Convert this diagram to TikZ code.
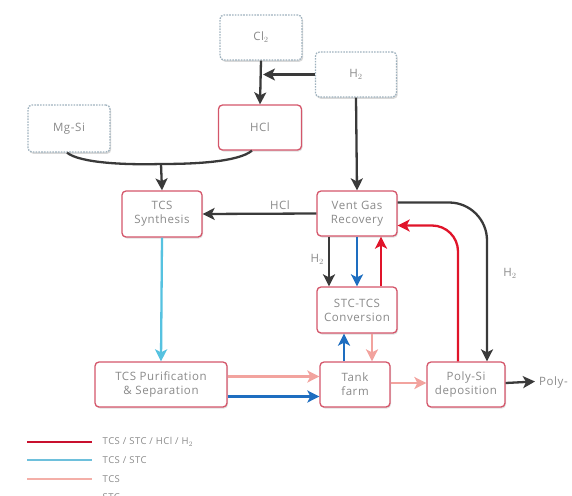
\documentclass[tikz,border=0pt]{standalone}
\usepackage{fontspec}
\setmainfont[LetterSpace=5]{Open Sans}
\usetikzlibrary{arrows.meta,shadows,calc}
\definecolor{boxred}{HTML}{D4566A}
\definecolor{txtgray}{HTML}{8A8A8A}
\definecolor{dashgray}{HTML}{9FB2BE}
\definecolor{arrdark}{HTML}{3A3A3A}
\definecolor{flowred}{HTML}{E0142A}
\definecolor{flowblue}{HTML}{1E6EC0}
\definecolor{flowcyan}{HTML}{56C2E0}
\definecolor{flowpink}{HTML}{F2A39E}
\definecolor{legred}{HTML}{C8102E}
\definecolor{legcyan}{HTML}{6EC0DC}
\definecolor{legpink}{HTML}{F4AFA8}
\definecolor{legblue}{HTML}{48A8E0}
\begin{document}
\begin{tikzpicture}[x=1pt,y=-1pt,
  every node/.style={font=\fontsize{11.5}{14}\selectfont, text=txtgray, align=center},
  procbox/.style={draw=boxred, line width=1.3pt, rounded corners=4pt, fill=white,
     inner sep=0pt, drop shadow={opacity=0.25, shadow xshift=1pt, shadow yshift=-1.5pt}},
  feedbox/.style={draw=dashgray, line width=1.3pt, dash pattern=on 1.6pt off 1.2pt, rounded corners=4pt, fill=white,
     inner sep=0pt, drop shadow={opacity=0.3, shadow xshift=1.2pt, shadow yshift=-1.8pt}},
  tip/.style={-{Stealth[length=12pt,width=12pt,inset=3pt]}},
  darkflow/.style={tip, draw=arrdark, line width=2.3pt},
  redflow/.style={tip, draw=flowred, line width=2.3pt},
  blueflow/.style={tip, draw=flowblue, line width=2.3pt},
  cyanflow/.style={tip, draw=flowcyan, line width=2.3pt},
  pinkflow/.style={tip, draw=flowpink, line width=2.3pt},
  legline/.style={line width=2.8pt},
  legtext/.style={font=\fontsize{9.5}{11}\selectfont, anchor=west},
  flowlabel/.style={font=\fontsize{11.5}{14}\selectfont}
]
\useasboundingbox (0,0) rectangle (572,495);
% nodes
\node[feedbox, minimum width=82pt, minimum height=45pt] (cl) at (261,37.5) {Cl$_2$};
\node[feedbox, minimum width=81pt, minimum height=45pt] (h2) at (356,74.5) {H$_2$};
\node[procbox, minimum width=83pt, minimum height=45pt] (hcl) at (260,127.5) {HCl};
\node[feedbox, minimum width=82pt, minimum height=47pt] (mg) at (69,128.5) {Mg-Si};
\node[procbox, minimum width=80pt, minimum height=46pt] (syn) at (162,214) {TCS\\Synthesis};
\node[procbox, minimum width=80pt, minimum height=45pt] (vgr) at (357,213.5) {Vent Gas\\Recovery};
\node[procbox, minimum width=80pt, minimum height=46pt] (stc) at (357,310) {STC-TCS\\Conversion};
\node[procbox, minimum width=132pt, minimum height=45pt] (pur) at (161,384.5) {TCS Purification\\\& Separation};
\node[procbox, minimum width=70pt, minimum height=45pt] (tank) at (355,384.5) {Tank\\farm};
\node[procbox, minimum width=78pt, minimum height=45pt] (poly) at (466,384.5) {Poly-Si\\deposition};
\node[anchor=west, inner sep=0pt] (polyout) at (539,383) {Poly-};
% feed connectors
\coordinate (join) at ([xshift=2pt]cl.south |- h2.west);
\draw[darkflow] (cl.south) -- (hcl.north);
\draw[darkflow] (h2.west) -- (join);
\draw[darkflow] (h2.south) -- (vgr.north);
\coordinate (merge) at (161,164);
\draw[arrdark, line width=2.3pt] ([xshift=-2pt]mg.south) .. controls (80,163) and (125,165) .. (merge);
\draw[arrdark, line width=2.3pt] ([xshift=-8pt]hcl.south) .. controls (238,162) and (195,164) .. (merge);
\draw[darkflow] (merge) -- (syn.north);
\draw[darkflow] (vgr.west) -- node[flowlabel, above, pos=0.32, inner sep=3pt] (lhcl) {HCl} (syn.east);
% vent gas / conversion
\draw[darkflow] ([xshift=-28pt]vgr.south) -- node[flowlabel, left, pos=0.45, inner sep=4pt] (lh2a) {H$_2$} ([xshift=-28pt]stc.north);
\draw[blueflow] (vgr.south) -- (stc.north);
\draw[redflow] ([xshift=24pt]stc.north) -- ([xshift=24pt]vgr.south);
\draw[darkflow, rounded corners=38pt] ([yshift=11pt]vgr.east) -| ([xshift=21pt]poly.north);
\node[flowlabel] (lh2b) at (510,273) {H$_2$};
\draw[redflow, rounded corners=26pt] ([xshift=-8pt]poly.north) |- ([yshift=-12pt]vgr.east);
% process line
\draw[cyanflow] (syn.south) -- (pur.north);
\draw[pinkflow] ([yshift=8pt]pur.east) -- ([yshift=8pt]pur.east -| tank.west);
\draw[blueflow] ([yshift=-12pt]pur.east) -- ([yshift=-12pt]pur.east -| tank.west);
\draw[blueflow] ([xshift=-11pt]tank.north) -- ([xshift=-11pt]tank.north |- stc.south);
\draw[pinkflow] ([xshift=17pt]tank.north |- stc.south) -- ([xshift=17pt]tank.north);
\draw[pinkflow] ([yshift=1.5pt]tank.east) -- ([yshift=1.5pt]tank.east -| poly.west);
\coordinate (outend) at ([xshift=-4pt,yshift=1.5pt]polyout.west);
\draw[darkflow] ([yshift=1.5pt]poly.east) -- (outend);
% legend
\draw[legline, legred] (27,442) -- (92,442) node[legtext, text=txtgray, xshift=6pt] (lg1) {TCS / STC / HCl / H$_2$};
\draw[legline, legcyan] (27,460) -- (92,460) node[legtext, text=txtgray, xshift=6pt] (lg2) {TCS / STC};
\draw[legline, legpink] (27,479) -- (92,479) node[legtext, text=txtgray, xshift=6pt] (lg3) {TCS};
\draw[legline, legblue] (27,497) -- (92,497) node[legtext, text=txtgray, xshift=6pt] (lg4) {STC};
\end{tikzpicture}
\end{document}
